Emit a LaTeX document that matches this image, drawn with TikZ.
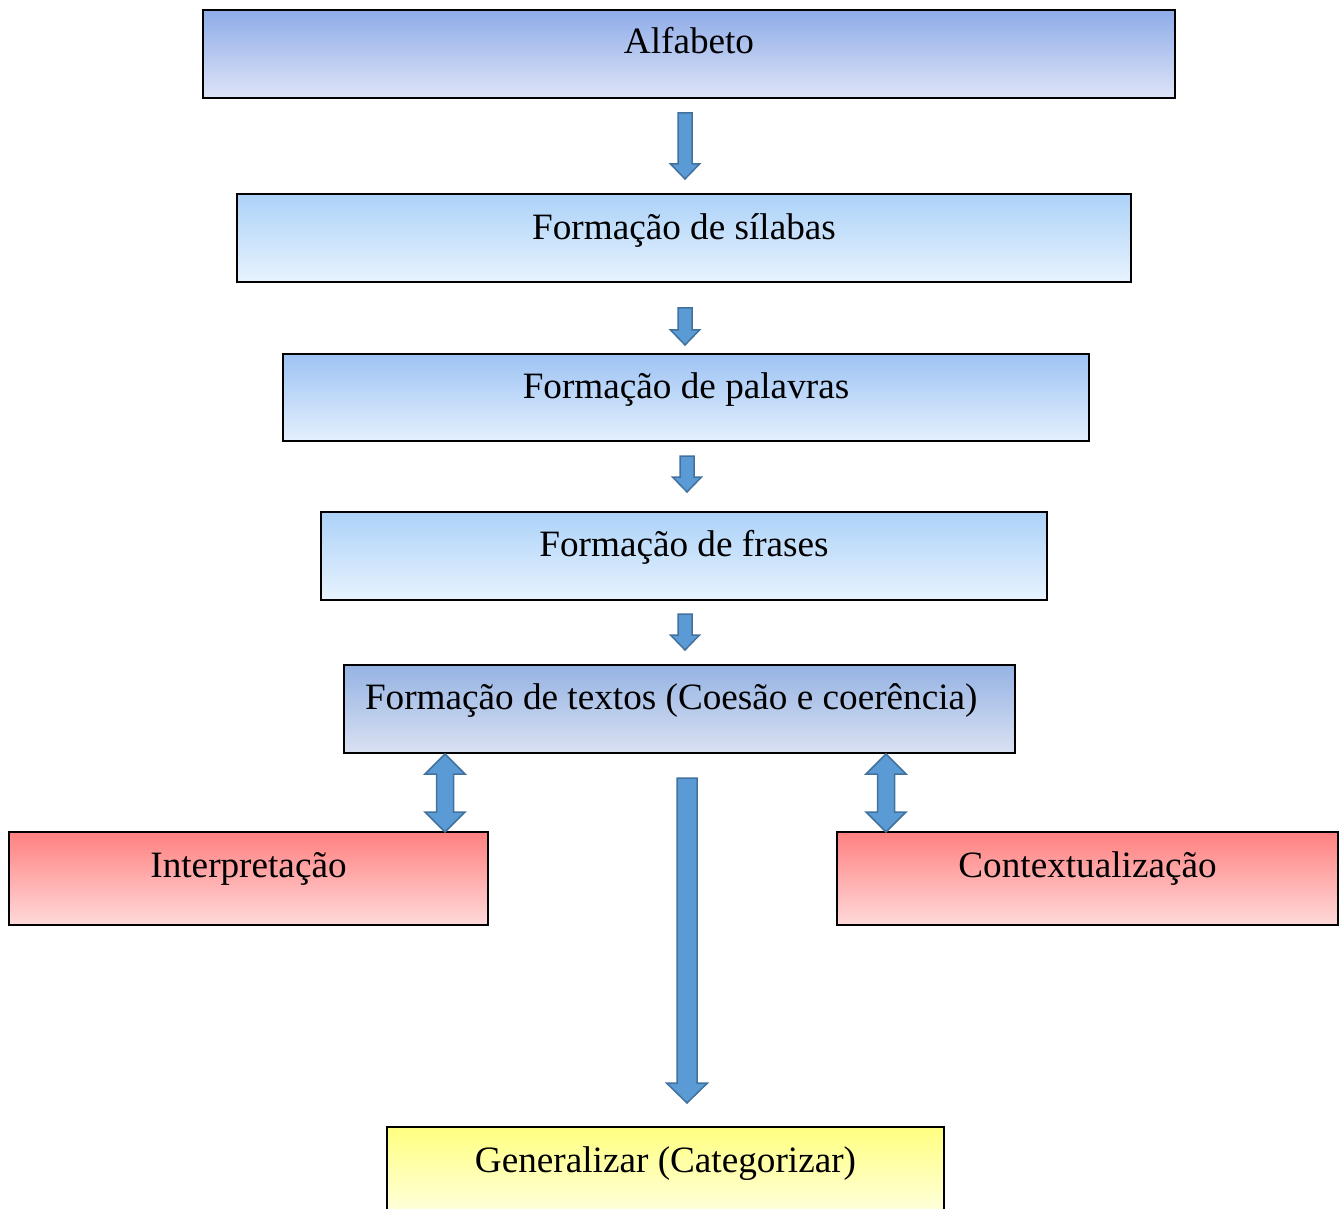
\documentclass[tikz,border=0pt]{standalone}
\usepackage{fontspec}
\setmainfont{Liberation Serif}
\usetikzlibrary{calc}
\definecolor{arrowfill}{HTML}{5B9BD5}
\definecolor{arrowline}{HTML}{41719C}
\tikzstyle{box} = [draw=black, line width=0.8pt, inner sep=0pt, text height=22pt, text depth=22pt, font=\fontsize{18.6}{22}\selectfont]
\tikzstyle{blockarrow} = [fill=arrowfill, draw=arrowline, line width=0.75pt, line join=miter]
% #1 start, #2 tip, #3 half shaft, #4 half head, #5 head length
\newcommand{\downblock}[5]{%
  \draw[blockarrow] let \p1=(#1), \p2=(#2) in
    (\x1-#3,\y1) -- (\x1+#3,\y1) -- (\x1+#3,\y2+#5) -- (\x1+#4,\y2+#5) -- (\x1,\y2)
    -- (\x1-#4,\y2+#5) -- (\x1-#3,\y2+#5) -- cycle;}
\newcommand{\bothblock}[5]{%
  \draw[blockarrow] let \p1=(#1), \p2=(#2) in
    (\x1,\y1) -- (\x1+#4,\y1-#5) -- (\x1+#3,\y1-#5) -- (\x1+#3,\y2+#5) -- (\x1+#4,\y2+#5)
    -- (\x1,\y2) -- (\x1-#4,\y2+#5) -- (\x1-#3,\y2+#5) -- (\x1-#3,\y1-#5) -- (\x1-#4,\y1-#5) -- cycle;}
\begin{document}
\begin{tikzpicture}[x=0.5pt, y=-0.5pt]
  \useasboundingbox (0,0) rectangle (1339,1209);
  % boxes
  \node[box, minimum width=486pt, top color={rgb,255:red,142;green,172;blue,232}, bottom color={rgb,255:red,222;green,228;blue,247}] (alfabeto) at (689,54) {Alfabeto};
  \node[box, minimum width=447pt, text height=23pt, text depth=21pt, top color={rgb,255:red,172;green,210;blue,248}, bottom color={rgb,255:red,232;green,243;blue,254}] (silabas) at (684,238) {Formação de sílabas};
  \node[box, minimum width=403pt, text depth=21.5pt, top color={rgb,255:red,157;green,195;blue,244}, bottom color={rgb,255:red,228;green,240;blue,253}] (palavras) at (686,397.5) {Formação de palavras};
  \node[box, minimum width=363pt, top color={rgb,255:red,172;green,210;blue,248}, bottom color={rgb,255:red,232;green,243;blue,254}] (frases) at (684,556) {Formação de frases};
  \node[box, minimum width=335.5pt, top color={rgb,255:red,149;green,179;blue,227}, bottom color={rgb,255:red,218;green,225;blue,242}] (textos) at (679.5,709) {\makebox[314.5pt][l]{Formação de textos (Coesão e coerência)}};
  \node[box, minimum width=239.5pt, text height=22.5pt, text depth=24pt, top color={rgb,255:red,255;green,128;blue,128}, bottom color={rgb,255:red,255;green,218;blue,218}] (interp) at (248.5,878.5) {Interpretação};
  \node[box, minimum width=250.5pt, text height=22.5pt, text depth=24pt, top color={rgb,255:red,255;green,128;blue,128}, bottom color={rgb,255:red,255;green,218;blue,218}] (context) at (1087.5,878.5) {Contextualização};
  \node[box, minimum width=278.5pt, text height=22.5pt, text depth=24pt, top color={rgb,255:red,255;green,255;blue,128}, bottom color={rgb,255:red,255;green,255;blue,229}] (general) at (665.5,1173.5) {Generalizar (Categorizar)};
  % arrow ends
  \coordinate (a1s) at (685,113);  \coordinate (a1e) at (685,179);
  \coordinate (a2s) at (685,308);  \coordinate (a2e) at (685,345);
  \coordinate (a3s) at (687,456);  \coordinate (a3e) at (687,492);
  \coordinate (a4s) at (685,614);  \coordinate (a4e) at (685,650);
  \coordinate (bigs) at (687,778); \coordinate (bige) at (687,1103);
  \coordinate (dls) at (445,754);  \coordinate (dle) at (445,832);
  \coordinate (drs) at (886,754);  \coordinate (dre) at (886,832);
  % arrows
  \downblock{a1s}{a1e}{3.5pt}{7.25pt}{7.5pt}
  \downblock{a2s}{a2e}{3.5pt}{7.25pt}{7.5pt}
  \downblock{a3s}{a3e}{3.5pt}{7.25pt}{7.5pt}
  \downblock{a4s}{a4e}{3.5pt}{7.25pt}{7.5pt}
  \downblock{bigs}{bige}{5pt}{10.25pt}{10pt}
  \bothblock{dls}{dle}{4.25pt}{10pt}{10pt}
  \bothblock{drs}{dre}{4.25pt}{10pt}{10pt}
\end{tikzpicture}
\end{document}
